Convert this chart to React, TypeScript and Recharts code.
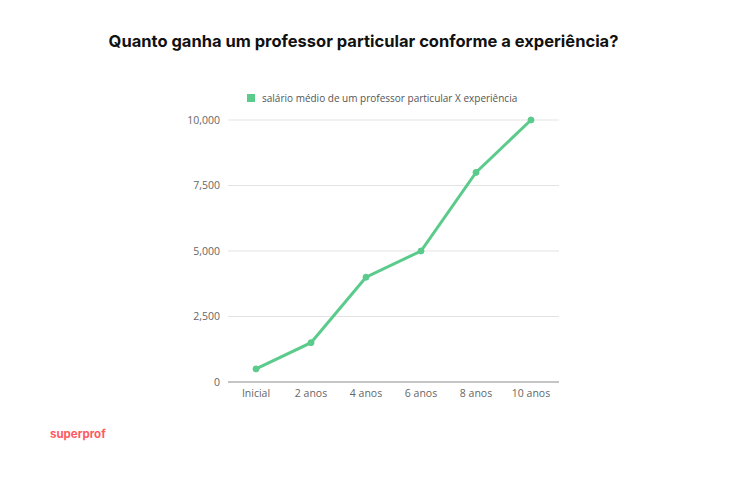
import React from 'react'
import { LineChart, Line, XAxis, YAxis, CartesianGrid } from 'recharts'

const categories = ['Inicial', '2 anos', '4 anos', '6 anos', '8 anos', '10 anos']
const salaries = [500, 1500, 4000, 5000, 8000, 10000]
const yTicks = [0, 2500, 5000, 7500, 10000]
const seriesName = 'salário médio de um professor particular X experiência'
const title = 'Quanto ganha um professor particular conforme a experiência?'

const data = categories.map((c, i) => ({ name: c, value: salaries[i] }))

const green = '#5bcb8c'
const tickStyle = { fontFamily: 'Open Sans', fontSize: 10.5, fill: '#666' }

const App: React.FC = () => {
  return (
    <div
      style={{
        position: 'absolute',
        left: 0,
        top: 0,
        width: 746,
        height: 498,
        background: '#fff',
      }}
    >
      <div
        style={{
          position: 'absolute',
          top: 31,
          left: 0,
          width: 727,
          textAlign: 'center',
          fontFamily: 'Inter',
          fontWeight: 700,
          fontSize: 16.5,
          color: '#111',
          whiteSpace: 'nowrap',
        }}
      >
        {title}
      </div>
      <div
        style={{
          position: 'absolute',
          top: 91,
          left: 247,
          fontFamily: 'Open Sans',
          fontSize: 10,
          color: '#555',
          whiteSpace: 'nowrap',
          display: 'flex',
          alignItems: 'center',
        }}
      >
        <span
          style={{
            display: 'inline-block',
            width: 8,
            height: 8,
            background: green,
            marginRight: 7,
          }}
        />
        {seriesName}
      </div>
      <LineChart
        width={746}
        height={498}
        data={data}
        margin={{ top: 120, right: 187, left: 0, bottom: 86 }}
      >
        <CartesianGrid vertical={false} stroke="#e3e3e3" />
        <XAxis
          dataKey="name"
          padding={{ left: 28, right: 28 }}
          tick={tickStyle}
          tickLine={false}
          axisLine={{ stroke: '#999' }}
          tickSize={0}
          tickMargin={8}
          height={30}
        />
        <YAxis
          width={228}
          domain={[0, 10000]}
          ticks={yTicks}
          tickFormatter={(v: number) => v.toLocaleString('en-US')}
          tick={tickStyle}
          tickLine={false}
          axisLine={false}
          tickSize={0}
          tickMargin={8}
        />
        <Line
          type="linear"
          dataKey="value"
          name={seriesName}
          stroke={green}
          strokeWidth={3}
          dot={{ r: 3, fill: green, stroke: green, strokeWidth: 1 }}
          isAnimationActive={false}
        />
      </LineChart>
      <div
        style={{
          position: 'absolute',
          top: 427,
          left: 50,
          fontFamily: 'Inter',
          fontWeight: 700,
          fontSize: 11.5,
          color: '#ff5a5f',
        }}
      >
        superprof
      </div>
    </div>
  )
}

export default App
